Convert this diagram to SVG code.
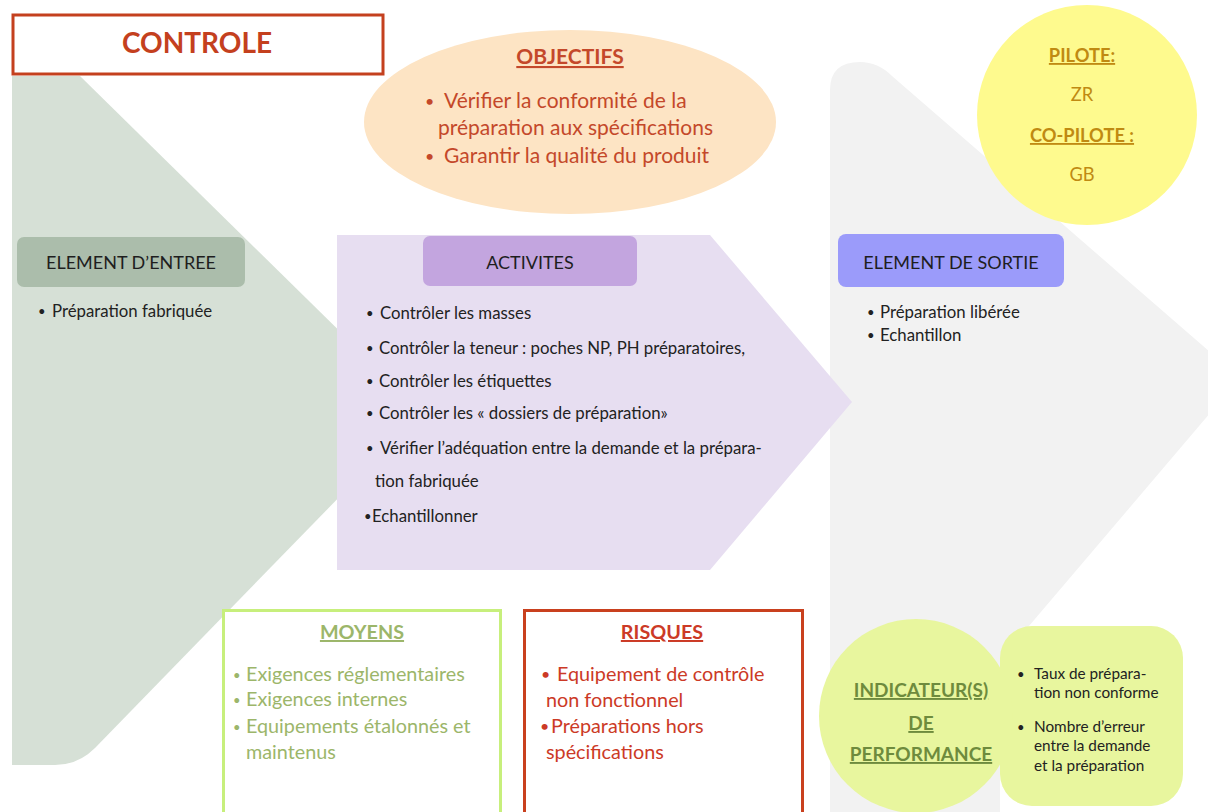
<svg xmlns="http://www.w3.org/2000/svg" width="1208" height="812" viewBox="0 0 1208 812">
<style>
text{font-family:Lato,"Open Sans","Liberation Sans",sans-serif}
.hdr{font-size:18px;fill:#1e1e1e;text-anchor:middle}
.body{font-size:16.8px;fill:#222}
.obj{font-size:21px;fill:#c4482a}
.ttl{font-weight:bold;text-decoration:underline;text-anchor:middle}
.pil{font-size:18.3px;fill:#c08a12;text-anchor:middle}
.moy{font-size:19.8px;fill:#9cb66a}
.ris{font-size:19.8px;fill:#cc3a26}
.ind{font-size:19px;fill:#6e8b3d}
.kpi{font-size:15.3px;fill:#222}
.sb{font-size:13px}
.mb{font-size:16px}
</style>
<rect width="1208" height="812" fill="#ffffff"/>
<g id="backgrounds">
<path id="input-chevron" d="M12,76 L80,76 L422,412 L95,748 Q78,765 55,765 L12,765 Z" fill="#d6e0d6"/>
<path id="output-chevron" d="M830,90 Q830,62 860,62 Q878,62 892,76 L1240,378 L1000,660 L1000,812 L830,812 Z" fill="#f2f2f2"/>
</g>
<g id="controle">
<rect x="13" y="15" width="370" height="59" fill="#ffffff" stroke="#c4401e" stroke-width="3"/>
<text x="197" y="53" font-size="28" font-weight="bold" fill="#c4401e" text-anchor="middle">CONTROLE</text>
</g>
<g id="objectifs">
<ellipse cx="570" cy="122" rx="206" ry="92" fill="#fde4c4"/>
<text x="570" y="64" class="obj ttl" font-size="18">OBJECTIFS</text>
<text x="425" y="107" class="obj mb">•</text>
<text x="444" y="108" class="obj">Vérifier la conformité de la</text>
<text x="438" y="135" class="obj">préparation aux spécifications</text>
<text x="425" y="162" class="obj mb">•</text>
<text x="444" y="163" class="obj">Garantir la qualité du produit</text>
</g>
<g id="pilote">
<circle cx="1087" cy="115" r="110" fill="#fefa8e"/>
<text x="1082" y="62" class="pil ttl">PILOTE:</text>
<text x="1082" y="101" class="pil">ZR</text>
<text x="1082" y="142" class="pil ttl">CO-PILOTE :</text>
<text x="1082" y="181" class="pil">GB</text>
</g>
<g id="entree">
<rect x="17" y="237" width="228" height="50" rx="7" fill="#abbdab"/>
<text x="131" y="269" class="hdr">ELEMENT D’ENTREE</text>
<text x="38" y="316" class="body sb">•</text>
<text x="52" y="317" class="body">Préparation fabriquée</text>
</g>
<g id="activites">
<path d="M337,235 L710,235 L852,402 L710,570 L337,570 Z" fill="#e7def1"/>
<rect x="423" y="236" width="214" height="50" rx="7" fill="#c3a5df"/>
<text x="530" y="269" class="hdr">ACTIVITES</text>
<text x="366" y="318" class="body sb">•</text>
<text x="380" y="319" class="body">Contrôler les masses</text>
<text x="366" y="353" class="body sb">•</text>
<text x="379" y="354" class="body">Contrôler la teneur : poches NP, PH préparatoires,</text>
<text x="366" y="386" class="body sb">•</text>
<text x="379" y="387" class="body">Contrôler les étiquettes</text>
<text x="366" y="418" class="body sb">•</text>
<text x="379" y="419" class="body">Contrôler les « dossiers de préparation»</text>
<text x="366" y="453" class="body sb">•</text>
<text x="380" y="454" class="body">Vérifier l’adéquation entre la demande et la prépara-</text>
<text x="375" y="487" class="body">tion fabriquée</text>
<text x="364" y="521" class="body sb">•</text>
<text x="372" y="522" class="body">Echantillonner</text>
</g>
<g id="sortie">
<rect x="838" y="234" width="226" height="53" rx="8" fill="#9b9bfa"/>
<text x="951" y="269" class="hdr" fill="#1c1c44">ELEMENT DE SORTIE</text>
<text x="867" y="317" class="body sb">•</text>
<text x="880" y="318" class="body">Préparation libérée</text>
<text x="867" y="340" class="body sb">•</text>
<text x="880" y="341" class="body">Echantillon</text>
</g>
<g id="moyens">
<rect x="223.5" y="610.5" width="277" height="210" fill="#ffffff" stroke="#c7ef7c" stroke-width="3"/>
<text x="362" y="639" class="moy ttl" font-size="18" fill="#8fb04c">MOYENS</text>
<text x="233" y="680" class="moy sb">•</text>
<text x="246" y="681" class="moy">Exigences réglementaires</text>
<text x="233" y="705" class="moy sb">•</text>
<text x="246" y="706" class="moy">Exigences internes</text>
<text x="233" y="732" class="moy sb">•</text>
<text x="246" y="733" class="moy">Equipements étalonnés et</text>
<text x="246" y="759" class="moy">maintenus</text>
</g>
<g id="risques">
<rect x="524.5" y="610.5" width="278" height="210" fill="#ffffff" stroke="#c9401e" stroke-width="3"/>
<text x="662" y="639" class="ris ttl" font-size="18" fill="#c4401e">RISQUES</text>
<text x="541" y="680" class="ris mb">•</text>
<text x="557" y="681" class="ris">Equipement de contrôle</text>
<text x="546" y="707" class="ris">non fonctionnel</text>
<text x="540" y="732" class="ris mb">•</text>
<text x="551" y="733" class="ris">Préparations hors</text>
<text x="546" y="759" class="ris">spécifications</text>
</g>
<g id="indicateurs">
<rect x="1000" y="626" width="183" height="180" rx="32" fill="#e8f69e"/>
<circle cx="916" cy="716" r="97" fill="#e8f69e"/>
<text x="921" y="697" class="ind ttl">INDICATEUR(S)</text>
<text x="921" y="730" class="ind ttl">DE</text>
<text x="921" y="761" class="ind ttl">PERFORMANCE</text>
<text x="1017" y="679" class="kpi sb">•</text>
<text x="1034" y="679" class="kpi">Taux de prépara-</text>
<text x="1034" y="698" class="kpi">tion non conforme</text>
<text x="1017" y="732" class="kpi sb">•</text>
<text x="1034" y="732" class="kpi">Nombre d’erreur</text>
<text x="1034" y="751" class="kpi">entre la demande</text>
<text x="1034" y="771" class="kpi">et la préparation</text>
</g>
</svg>
